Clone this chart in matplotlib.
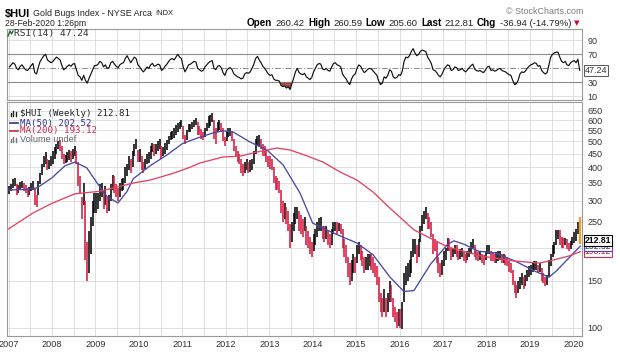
import matplotlib
matplotlib.use("Agg")
import matplotlib.pyplot as plt
import matplotlib.transforms as mtransforms
from matplotlib.ticker import FixedLocator, NullLocator, FixedFormatter
import numpy as np

# ---------------- data (semi-monthly bars) ----------------
start_year = 2007
bar_low = [
    318, 325, 335, 340, 315, 320, 330, 335, 325, 320, 310, 315, 325, 330, 290, 284, 315, 345, 375, 400, 410, 390, 395, 405,  # 2007
    410, 430, 450, 470, 460, 430, 410, 415, 420, 425, 420, 430, 440, 410, 340, 320, 255, 290, 180, 150, 160, 190, 240, 270,  # 2008
    270, 280, 300, 310, 280, 290, 270, 275, 300, 330, 320, 310, 300, 310, 325, 330, 350, 370, 390, 380, 400, 440, 470, 420,  # 2009
    420, 390, 380, 395, 410, 415, 430, 455, 440, 450, 460, 470, 430, 440, 450, 465, 490, 505, 510, 515, 530, 540, 555, 565,  # 2010
    510, 490, 505, 540, 540, 555, 565, 575, 530, 530, 510, 505, 520, 545, 560, 570, 590, 510, 490, 540, 550, 540, 500, 480,  # 2011
    500, 520, 525, 500, 460, 440, 420, 410, 380, 370, 380, 390, 380, 385, 390, 410, 450, 480, 480, 470, 440, 440, 420, 400,  # 2012
    395, 390, 350, 330, 330, 320, 270, 250, 255, 245, 230, 200, 210, 230, 245, 255, 230, 225, 220, 230, 205, 200, 190, 185,  # 2013
    195, 205, 220, 230, 230, 215, 210, 215, 205, 200, 205, 225, 230, 225, 230, 225, 200, 185, 175, 155, 145, 150, 160, 160,  # 2014
    175, 190, 180, 170, 160, 165, 165, 170, 165, 160, 155, 145, 125, 115, 110, 115, 110, 115, 125, 125, 110, 105, 100, 102,  # 2015
    100, 99, 125, 145, 150, 155, 160, 185, 190, 175, 185, 210, 230, 245, 255, 235, 235, 220, 190, 195, 175, 160, 155, 158,   # 2016
    170, 180, 195, 195, 180, 185, 190, 185, 180, 182, 185, 178, 175, 180, 185, 190, 200, 185, 180, 178, 180, 175, 172, 180,  # 2017
    190, 190, 178, 178, 175, 175, 178, 180, 175, 175, 172, 170, 162, 160, 145, 135, 130, 135, 140, 145, 140, 143, 150, 155,  # 2018
    158, 162, 165, 165, 160, 162, 150, 148, 143, 145, 155, 170, 185, 190, 205, 215, 205, 200, 200, 205, 198, 195, 198, 205,  # 2019
    208, 212, 225, 205.60,                                                                                                   # 2020
]
bar_high = [
    340, 345, 362, 365, 345, 342, 352, 355, 348, 342, 335, 338, 350, 355, 335, 315, 355, 380, 410, 440, 455, 430, 425, 440,  # 2007
    460, 475, 490, 500, 505, 480, 450, 445, 455, 465, 460, 470, 480, 460, 420, 370, 310, 350, 300, 210, 230, 260, 300, 320,  # 2008
    320, 320, 345, 350, 330, 340, 310, 315, 345, 375, 370, 345, 335, 350, 360, 365, 400, 410, 440, 430, 460, 490, 510, 465,  # 2009
    470, 440, 420, 430, 450, 455, 480, 495, 490, 490, 500, 510, 480, 475, 495, 505, 525, 540, 545, 560, 575, 585, 590, 600,  # 2010
    570, 530, 550, 580, 580, 590, 600, 610, 590, 570, 555, 540, 560, 585, 620, 630, 640, 600, 560, 590, 600, 585, 560, 520,  # 2011
    545, 560, 560, 545, 510, 480, 460, 450, 430, 410, 420, 430, 420, 425, 430, 460, 510, 525, 530, 510, 490, 480, 465, 440,  # 2012
    440, 430, 400, 370, 365, 355, 330, 300, 295, 285, 275, 245, 250, 270, 285, 285, 275, 265, 255, 260, 240, 230, 220, 210,  # 2013
    225, 235, 250, 258, 260, 240, 240, 240, 230, 225, 235, 250, 250, 250, 248, 245, 235, 215, 205, 185, 175, 180, 190, 185,  # 2014
    205, 210, 205, 195, 185, 185, 190, 190, 190, 185, 175, 170, 155, 135, 130, 140, 130, 135, 150, 145, 130, 120, 115, 118,  # 2015
    118, 125, 160, 170, 175, 180, 195, 215, 215, 205, 215, 240, 265, 275, 285, 270, 260, 250, 225, 215, 210, 185, 175, 180,  # 2016
    195, 200, 218, 215, 200, 200, 205, 205, 195, 198, 200, 192, 190, 195, 200, 210, 215, 205, 195, 192, 195, 190, 188, 195,  # 2017
    205, 205, 195, 192, 190, 192, 195, 195, 190, 190, 188, 185, 178, 175, 165, 150, 145, 150, 155, 160, 155, 158, 165, 170,  # 2018
    172, 175, 178, 178, 172, 175, 168, 160, 155, 158, 180, 190, 205, 210, 232, 232, 232, 220, 218, 218, 215, 208, 212, 220,  # 2019
    228, 235, 250, 260.59,                                                                                                   # 2020
]
rsi_vals = [
    52, 55, 58, 56, 50, 48, 53, 55, 51, 48, 47, 50, 54, 57, 44, 42, 52, 60, 64, 68, 70, 62, 60, 58,  # 2007
    60, 63, 66, 64, 62, 54, 48, 50, 53, 55, 53, 56, 57, 48, 40, 38, 33, 40, 33, 29, 36, 42, 48, 54,  # 2008
    54, 56, 60, 58, 52, 55, 50, 51, 58, 60, 56, 53, 51, 55, 57, 58, 64, 68, 63, 58, 62, 66, 64, 55,  # 2009
    52, 48, 45, 48, 52, 50, 55, 57, 53, 54, 56, 55, 47, 49, 53, 56, 60, 63, 64, 62, 66, 70, 66, 64,  # 2010
    52, 45, 50, 55, 56, 58, 60, 59, 50, 48, 46, 47, 52, 55, 58, 60, 61, 50, 48, 53, 54, 51, 44, 40,  # 2011
    47, 50, 51, 48, 42, 40, 38, 37, 35, 36, 42, 44, 43, 45, 50, 56, 64, 67, 62, 58, 53, 50, 46, 42,  # 2012
    40, 41, 35, 33, 33, 32, 26, 24, 25, 22, 24, 20, 28, 36, 45, 50, 44, 42, 41, 43, 38, 36, 34, 37,  # 2013
    45, 50, 55, 57, 56, 49, 48, 50, 47, 46, 52, 57, 58, 55, 54, 52, 42, 38, 35, 30, 27, 35, 40, 42,  # 2014
    50, 55, 53, 48, 44, 46, 49, 50, 49, 46, 43, 40, 32, 27, 29, 38, 36, 40, 48, 46, 38, 36, 37, 41,  # 2015
    40, 46, 60, 66, 65, 68, 74, 78, 72, 68, 70, 74, 76, 75, 74, 66, 62, 57, 48, 47, 44, 40, 38, 42,  # 2016
    48, 52, 55, 54, 47, 48, 52, 51, 47, 48, 50, 47, 45, 48, 51, 54, 56, 49, 47, 46, 47, 45, 44, 48,  # 2017
    52, 53, 47, 48, 46, 47, 49, 50, 47, 46, 45, 43, 41, 40, 33, 27, 28, 33, 42, 45, 44, 46, 50, 53,  # 2018
    55, 56, 58, 57, 53, 54, 47, 44, 42, 44, 55, 66, 70, 72, 73, 73, 66, 60, 58, 60, 55, 54, 58, 60,  # 2019
    61, 58, 63, 47.24,                                                                               # 2020
]
ma50_t = [2007.0, 2007.4, 2007.66, 2008.0, 2008.3, 2008.53, 2008.8, 2009.04, 2009.27, 2009.52, 2009.73,
          2009.87, 2010.26, 2010.65, 2011.0, 2011.34, 2011.7, 2011.94, 2012.17, 2012.56, 2012.95, 2013.32,
          2013.71, 2014.0, 2014.47, 2015.02, 2015.39, 2015.78, 2016.1, 2016.33, 2016.72, 2017.11, 2017.25,
          2017.48, 2017.81, 2018.2, 2018.66, 2019.12, 2019.44, 2019.6, 2019.9, 2020.16]
ma50_v = [329, 330, 335, 365, 405, 418, 398, 349, 310, 294, 325, 362, 405, 445, 490, 514, 537, 548, 542,
          497, 464, 408, 320, 247, 227, 208, 188, 155, 137, 138, 174, 206, 212, 206, 194, 191, 178, 163,
          155, 163, 183, 202.52]
ma200_t = [2007.0, 2007.57, 2008.0, 2008.53, 2009.1, 2009.87, 2010.26, 2010.8, 2011.18, 2011.41, 2011.94,
           2012.33, 2012.72, 2013.18, 2013.48, 2013.87, 2014.24, 2014.63, 2015.02, 2015.39, 2015.78,
           2016.33, 2017.11, 2017.88, 2018.66, 2019.21, 2019.44, 2019.9, 2020.16]
ma200_v = [235, 270, 293, 318, 325, 349, 358, 380, 400, 415, 437, 440, 456, 472, 464, 441, 418, 384, 358,
           323, 281, 233, 201, 186, 178, 175, 178, 186, 193.12]
price_ticks = [100, 150, 250, 300, 350, 400, 450, 500, 550, 600, 650]
price_grid = [100, 150, 200, 250, 300, 350, 400, 450, 500, 550, 600, 650]
year_ticks = list(range(2007, 2021))
rsi_ticks = [10, 30, 70, 90]
last_close, last_ma50, last_ma200, last_rsi = 212.81, 202.52, 193.12, 47.24

assert len(bar_low) == len(bar_high) == len(rsi_vals)

# ---------------- figure ----------------
W, H = 620, 353
fig = plt.figure(figsize=(W / 100, H / 100), dpi=100)
fig.patch.set_facecolor('white')
SANS = ['Liberation Sans', 'DejaVu Sans']
MONO = ['DejaVu Sans Mono']

def fx(x):
    return x / W

def fy(y):
    return 1 - y / H

L, R = 7, 582
RT, RB = 29, 100
MT, MB = 102, 336
ax_r = fig.add_axes([fx(L), fy(RB), (R - L) / W, (RB - RT) / H])
ax_m = fig.add_axes([fx(L), fy(MB), (R - L) / W, (MB - MT) / H])

x0 = start_year + (L - 8.5) / 43.45
x1 = start_year + (R - 8.5) / 43.45

n = len(bar_low)
t = start_year + (np.arange(n) + 0.5) / 24.0
lo = np.array(bar_low, dtype=float)
hi = np.array(bar_high, dtype=float)
rsi = np.array(rsi_vals, dtype=float)

grid_c = '#dadada'
half_years = np.arange(2007.0, 2020.6, 0.5)
for ax in (ax_r, ax_m):
    ax.set_xlim(x0, x1)
    for hy in half_years:
        ax.axvline(hy, color=grid_c, lw=0.6, zorder=0)
    for s in ax.spines.values():
        s.set_color('#9a9a9a')
        s.set_linewidth(0.8)
    ax.set_facecolor('white')

# ---------------- main price panel ----------------
ax_m.set_yscale('log')
ax_m.set_ylim(93.3, 702)
for g in price_grid:
    ax_m.axhline(g, color=grid_c, lw=0.6, zorder=0)

mid = (lo + hi) / 2
up = np.concatenate([[True], mid[1:] >= mid[:-1]])
red = '#d4143c'
idx = np.arange(n)
main_idx = idx[:-1]
upm = up[:-1]
ax_m.vlines(t[main_idx][upm], lo[main_idx][upm], hi[main_idx][upm], colors='black', lw=1.12, zorder=3)
ax_m.vlines(t[main_idx][~upm], lo[main_idx][~upm], hi[main_idx][~upm], colors=red, lw=1.12, zorder=3)
ax_m.vlines(t[-1:], lo[-1:], hi[-1:], colors='#f0a030', lw=1.7, zorder=4)

ax_m.plot(ma50_t, ma50_v, color='#4848a8', lw=0.95, zorder=5)
ax_m.plot(ma200_t, ma200_v, color='#e04462', lw=0.95, zorder=5)

ax_m.yaxis.tick_right()
ax_m.yaxis.set_major_locator(FixedLocator(price_ticks))
ax_m.yaxis.set_major_formatter(FixedFormatter([str(v) for v in price_ticks]))
ax_m.yaxis.set_minor_locator(NullLocator())
ax_m.tick_params(axis='y', length=0, pad=4, labelsize=6.5, labelcolor='#333333')
ax_m.xaxis.set_major_locator(FixedLocator(year_ticks))
ax_m.xaxis.set_major_formatter(FixedFormatter([str(y) for y in year_ticks]))
ax_m.xaxis.set_minor_locator(NullLocator())
ax_m.tick_params(axis='x', length=0, pad=3, labelsize=6.6, labelcolor='#333333')
for lab in ax_m.get_xticklabels() + ax_m.get_yticklabels():
    lab.set_family(SANS)

trans_m = mtransforms.blended_transform_factory(ax_m.transAxes, ax_m.transData)
for val, ec, tc, bold in [(last_ma200, '#d03050', '#c02040', False),
                          (last_ma50, '#4848a8', '#30308a', False),
                          (last_close, 'black', 'black', True)]:
    ax_m.text(1.005, val, f'{val:.2f}', transform=trans_m, fontsize=6.2, color=tc,
              fontweight='bold' if bold else 'normal', family=SANS, va='center', ha='left',
              bbox=dict(boxstyle='square,pad=0.1', fc='white', ec=ec, lw=0.8), clip_on=False, zorder=10)

# legend (top-left of main panel)
fig.text(fx(20), fy(114), '$HUI (Weekly) 212.81', family=MONO, fontsize=6.6, color='#222222', va='center')
fig.text(fx(20), fy(123), 'MA(50) 202.52', family=MONO, fontsize=6.6, color='#30308a', va='center')
fig.text(fx(20), fy(131), 'MA(200) 193.12', family=MONO, fontsize=6.6, color='#d02848', va='center')
fig.text(fx(20), fy(139.5), 'Volume undef', family=SANS, fontsize=6.6, color='#666666', va='center')
fig.add_artist(plt.Line2D([fx(10), fx(18)], [fy(123), fy(123)], color='#30308a', lw=1.2))
fig.add_artist(plt.Line2D([fx(10), fx(18)], [fy(131), fy(131)], color='#d02848', lw=1.2))
for k, hgt in enumerate([3, 5, 4]):
    xx = 11 + k * 2.3
    fig.add_artist(plt.Line2D([fx(xx), fx(xx)], [fy(116), fy(116 - hgt)], color='#222222', lw=1.0))
    fig.add_artist(plt.Line2D([fx(xx), fx(xx)], [fy(142), fy(142 - hgt)], color='#777777', lw=1.0))

# ---------------- RSI panel ----------------
ax_r.set_ylim(5, 106)
for g in [10, 90]:
    ax_r.axhline(g, color=grid_c, lw=0.6, zorder=0)
for g in [30, 70]:
    ax_r.axhline(g, color='#8c8c8c', lw=0.8, zorder=1)
ax_r.axhline(50, color='#8c8c8c', lw=0.7, ls=(0, (6, 2, 1, 2)), zorder=1)
ax_r.fill_between(t, rsi, 30, where=rsi < 30, interpolate=True, color='#a05048', lw=0, zorder=2)
ax_r.plot(t, rsi, color='#111111', lw=0.85, zorder=3)
ax_r.yaxis.tick_right()
ax_r.yaxis.set_major_locator(FixedLocator(rsi_ticks))
ax_r.yaxis.set_major_formatter(FixedFormatter([str(v) for v in rsi_ticks]))
ax_r.tick_params(axis='y', length=0, pad=4, labelsize=6.5, labelcolor='#333333')
ax_r.xaxis.set_major_locator(NullLocator())
for lab in ax_r.get_yticklabels():
    lab.set_family(SANS)
trans_r = mtransforms.blended_transform_factory(ax_r.transAxes, ax_r.transData)
ax_r.text(1.005, last_rsi, f'{last_rsi:.2f}', transform=trans_r, fontsize=6.4, color='#333333',
          family=SANS, va='center', ha='left',
          bbox=dict(boxstyle='square,pad=0.12', fc='white', ec='#555555', lw=0.7), clip_on=False, zorder=10)
fig.text(fx(14), fy(33.5), 'RSI(14) 47.24', family=MONO, fontsize=6.8, color='#333333', va='center')
fig.add_artist(plt.Line2D([fx(8), fx(10), fx(11.5), fx(13)], [fy(36), fy(31), fy(34), fy(31)],
                          color='#2a6a2a', lw=1.0))

# ---------------- header ----------------
renderer = fig.canvas.get_renderer()

def seq_text(x, y, pieces, align='left', gap=3.0):
    arts = []
    widths = []
    for s, kw in pieces:
        a = fig.text(0, fy(y), s, va='center', ha='left', **kw)
        w = a.get_window_extent(renderer).width
        arts.append(a)
        widths.append(w)
    total = sum(widths) + gap * (len(widths) - 1)
    cur = x if align == 'left' else x - total
    for a, w in zip(arts, widths):
        a.set_x(fx(cur))
        cur += w + gap

seq_text(5, 13.5, [('$HUI', dict(fontsize=8.0, fontweight='bold', family=SANS, color='black')),
                   ('Gold Bugs Index - NYSE Arca', dict(fontsize=6.4, family=SANS, color='#222222')),
                   ('INDX', dict(fontsize=5.4, family=SANS, color='#222222'))])
fig.text(fx(5), fy(24), '28-Feb-2020 1:26pm', fontsize=6.2, family=SANS, color='#222222', va='center')
bold = dict(fontsize=7.1, fontweight='bold', family=SANS, color='black')
reg = dict(fontsize=6.8, family=SANS, color='#222222')
seq_text(580, 23.5, [('Open', bold), ('260.42', reg), ('High', bold), ('260.59', reg),
                     ('Low', bold), ('205.60', reg), ('Last', bold), ('212.81', reg),
                     ('Chg', bold), ('-36.94 (-14.79%)', reg),
                     ('\u25bc', dict(fontsize=5.2, family=['DejaVu Sans'], color='#c01030'))],
         align='right', gap=3.3)
fig.text(fx(583), fy(12), '\u00a9 StockCharts.com', fontsize=6.4, family=SANS, color='#7a7a7a',
         va='center', ha='right')

fig.savefig('out.png', dpi=100, facecolor='white')
